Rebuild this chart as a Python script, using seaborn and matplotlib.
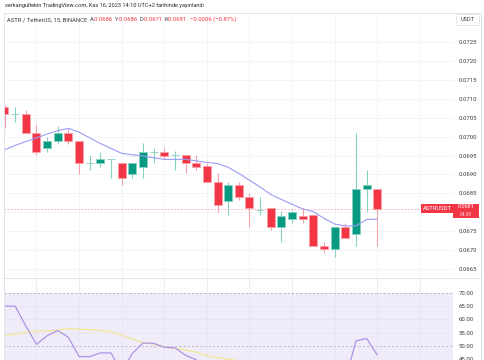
import matplotlib
matplotlib.use('Agg')
import matplotlib.pyplot as plt
from matplotlib.patches import Rectangle
from matplotlib.lines import Line2D
import numpy as np
import pandas as pd
import seaborn as sns

# 15-minute ASTR/USDT candles
opens = [0.07079, 0.07060, 0.07060, 0.07011, 0.06969, 0.06989, 0.07011, 0.06989, 0.06930, 0.06930,
         0.06941, 0.06931, 0.06901, 0.06921, 0.06960, 0.06960, 0.06952, 0.06952, 0.06931, 0.06922,
         0.06881, 0.06831, 0.06872, 0.06841, 0.06807, 0.06811, 0.06762, 0.06782, 0.06791, 0.06793,
         0.06711, 0.06702, 0.06762, 0.06742, 0.06862, 0.06862]
highs = [0.07084, 0.07079, 0.07071, 0.07031, 0.07000, 0.07029, 0.07022, 0.06989, 0.06952, 0.06960,
         0.06941, 0.06931, 0.06931, 0.06983, 0.06971, 0.06971, 0.06963, 0.06952, 0.06952, 0.06930,
         0.06903, 0.06881, 0.06881, 0.06850, 0.06841, 0.06811, 0.06803, 0.06806, 0.06811, 0.06793,
         0.06722, 0.06762, 0.06771, 0.07011, 0.06912, 0.06862]
lows = [0.07022, 0.07040, 0.07011, 0.06952, 0.06960, 0.06981, 0.06981, 0.06901, 0.06912, 0.06921,
        0.06890, 0.06872, 0.06892, 0.06892, 0.06931, 0.06941, 0.06912, 0.06903, 0.06912, 0.06881,
        0.06802, 0.06793, 0.06833, 0.06762, 0.06793, 0.06753, 0.06722, 0.06772, 0.06772, 0.06711,
        0.06693, 0.06683, 0.06732, 0.06711, 0.06802, 0.06710]
closes = [0.07060, 0.07060, 0.07011, 0.06960, 0.06989, 0.07011, 0.06989, 0.06930, 0.06930, 0.06941,
          0.06941, 0.06890, 0.06931, 0.06960, 0.06960, 0.06950, 0.06952, 0.06931, 0.06921, 0.06881,
          0.06819, 0.06872, 0.06841, 0.06811, 0.06807, 0.06762, 0.06791, 0.06802, 0.06782, 0.06711,
          0.06702, 0.06762, 0.06732, 0.06862, 0.06872, 0.06810]
ma_price = [0.06965, 0.06977, 0.06987, 0.06997, 0.07007, 0.07016, 0.07022, 0.07012, 0.06997, 0.06982,
            0.06969, 0.06956, 0.06952, 0.06949, 0.06944, 0.06940, 0.06940, 0.06940, 0.06936, 0.06932,
            0.06929, 0.06919, 0.06903, 0.06885, 0.06867, 0.06847, 0.06834, 0.06821, 0.06809, 0.06802,
            0.06784, 0.06769, 0.06764, 0.06764, 0.06781, 0.06782]
rsi = [64.9, 64.9, 57.5, 50.6, 53.8, 55.8, 53.2, 46.0, 46.0, 47.4,
       47.4, 40.0, 47.2, 51.1, 51.0, 49.5, 49.3, 46.5, 44.8, 40.0,
       33.0, 38.0, 36.0, 32.0, 32.0, 28.0, 34.0, 36.0, 35.0, 27.0,
       26.0, 40.0, 37.0, 51.9, 52.8, 46.6]
rsi_ma = [53.8, 54.4, 55.1, 55.6, 55.6, 55.9, 56.5, 56.2, 56.2, 55.8,
          55.3, 54.1, 52.6, 51.2, 50.7, 49.6, 49.1, 48.5, 47.7, 46.3,
          45.6, 45.1, 44.5, 43.5, 42.5, 41.5, 40.5, 39.5, 38.8, 38.0,
          37.5, 37.2, 37.0, 37.2, 37.5, 37.5]
price_ticks = [0.0665, 0.0670, 0.0675, 0.0680, 0.0685, 0.0690, 0.0695, 0.0700,
               0.0705, 0.0710, 0.0715, 0.0720, 0.0725]
rsi_ticks = [45, 50, 55, 60, 65, 70]
last_price = 0.0681

UP = '#089981'
DOWN = '#F23645'
UP_L = '#86d1c0'
DOWN_L = '#f7a0a8'
TXT = '#3a3d45'

df = pd.DataFrame({'i': np.arange(len(opens)), 'open': opens, 'high': highs,
                   'low': lows, 'close': closes, 'ma': ma_price,
                   'rsi': rsi, 'rsi_ma': rsi_ma})
df['up'] = df['close'] >= df['open']

sns.set_theme(style='white')
plt.rcParams['font.family'] = ['Roboto', 'DejaVu Sans']

W, H = 485, 360
fig = plt.figure(figsize=(W / 100, H / 100), dpi=100)
fig.patch.set_facecolor('white')


def fx(x):
    return x / W


def fy(y):
    return 1 - y / H


ax = fig.add_axes([fx(4), fy(278), fx(449), 265 / H])
ax_r = fig.add_axes([fx(4), 0, fx(449), 82 / H])

xlim = (-0.047, 42.11)
grid_x = np.arange(3, 42, 4)

# main price panel
for t in price_ticks:
    ax.axhline(t, color='#f0f2f6', lw=0.6, zorder=0)
for g in grid_x:
    ax.axvline(g, color='#f0f2f6', lw=0.6, zorder=0)

wick_cols = [UP_L if u else DOWN_L for u in df['up']]
body_cols = [UP if u else DOWN for u in df['up']]
ax.vlines(df['i'], df['low'], df['high'], colors=wick_cols, lw=0.8, zorder=2)
ax.bar(df['i'], df['close'] - df['open'], bottom=df['open'], width=0.75,
       color=body_cols, edgecolor=wick_cols, linewidth=0.6, zorder=3)
sns.lineplot(data=df, x='i', y='ma', ax=ax, color='#9a9cf7', lw=0.8, zorder=4)

ax.axhline(last_price, color='#f7a8b0', lw=0.6, ls=(0, (2, 2)), zorder=1)

ax.set_xlim(*xlim)
ax.set_ylim(0.066262, 0.073272)
ax.yaxis.tick_right()
ax.set_yticks(price_ticks)
# the 0.0680 label sits under the last-price box
ax.set_yticklabels(['' if abs(t - 0.0680) < 1e-9 else f'{t:.4f}' for t in price_ticks])
ax.set_xticks([])
ax.tick_params(axis='y', length=0, pad=4, labelsize=4.3, labelcolor=TXT)
ax.set_xlabel('')
ax.set_ylabel('')
for s in ax.spines.values():
    s.set_visible(False)

ax.text(0.998, last_price, 'ASTRUSDT', transform=ax.get_yaxis_transform(),
        ha='right', va='center', fontsize=4.2, color='white', zorder=6,
        bbox=dict(boxstyle='square,pad=0.3', fc=DOWN, ec='none'))

# RSI panel
ax_r.axhspan(30, 70, color='#efebf8', lw=0, zorder=0)
for t in [55, 60, 65]:
    ax_r.axhline(t, color='#e6e2f0', lw=0.5, zorder=1)
for g in grid_x:
    ax_r.axvline(g, color='#e6e2f0', lw=0.5, zorder=1)
for t in [50, 70]:
    ax_r.axhline(t, color='#b7b0c6', lw=0.6, ls=(0, (2.5, 2.5)), zorder=2)
sns.lineplot(data=df, x='i', y='rsi_ma', ax=ax_r, color='#f6e68a', lw=0.8, zorder=3)
sns.lineplot(data=df, x='i', y='rsi', ax=ax_r, color='#a58be3', lw=0.8, zorder=4)
ax_r.set_xlim(*xlim)
ax_r.set_ylim(44.74, 75.43)
ax_r.yaxis.tick_right()
ax_r.set_yticks(rsi_ticks)
ax_r.set_yticklabels([f'{t:.2f}' for t in rsi_ticks])
ax_r.set_xticks([])
ax_r.tick_params(axis='y', length=0, pad=4, labelsize=4.3, labelcolor=TXT)
ax_r.set_xlabel('')
ax_r.set_ylabel('')
for s in ax_r.spines.values():
    s.set_visible(False)

# frame and separators
fig.add_artist(Rectangle((fx(4), fy(362)), fx(477), (362 - 13) / H, transform=fig.transFigure,
                         fill=False, ec='#e0e3eb', lw=0.7))
fig.add_artist(Line2D([fx(4), fx(481)], [fy(278), fy(278)], transform=fig.transFigure,
                      color='#e0e3eb', lw=0.7))

# last price box on the scale
fig.add_artist(Rectangle((fx(453), fy(218)), fx(26), 14 / H, transform=fig.transFigure,
                         fc=DOWN, ec='none', zorder=5))
fig.text(fx(466), fy(208), f'{last_price:.4f}', ha='center', va='baseline',
         fontsize=4.0, color='white', zorder=6)
fig.text(fx(466), fy(215.5), '04:38', ha='center', va='baseline',
         fontsize=3.5, color='#fbd0d4', zorder=6)

# currency box
fig.add_artist(Rectangle((fx(456), fy(25)), fx(23), 11 / H, transform=fig.transFigure,
                         fc='white', ec='#e0e3eb', lw=0.6, zorder=5))
fig.text(fx(467.5), fy(19.5), 'USDT', ha='center', va='center', fontsize=4.0,
         color=TXT, zorder=6)

# header
fig.text(fx(5), fy(6), 'serkangultekin TradingView.com, Kas 16, 2023 14:10 UTC+2 tarihinde yayınlandı',
         ha='left', va='center', fontsize=4.1, color='#2a2e39')

parts = [('ASTR / TetherUS, 15, BINANCE  ', TXT), ('A', TXT), ('0.0686  ', DOWN),
         ('Y', TXT), ('0.0686  ', DOWN), ('D', TXT), ('0.0671  ', DOWN),
         ('K', TXT), ('0.0681  ', DOWN), ('\u22120.0006 (\u22120.87%)', DOWN)]
x0 = fx(7)
renderer = fig.canvas.get_renderer()
for s, c in parts:
    t = fig.text(x0, fy(19.5), s, ha='left', va='center', fontsize=4.2, color=c)
    bb = t.get_window_extent(renderer=renderer)
    x0 += bb.width / fig.bbox.width

fig.savefig('out.png', dpi=100)
